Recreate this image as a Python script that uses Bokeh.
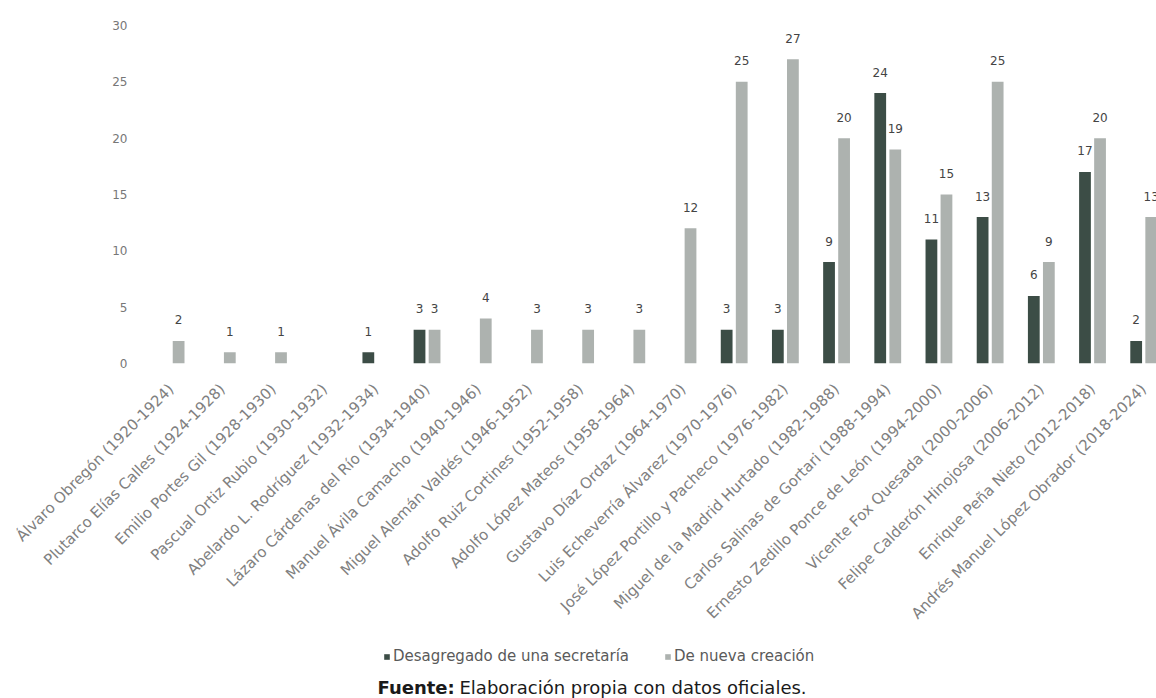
import numpy as np
from bokeh.plotting import figure
from bokeh.layouts import column
from bokeh.models import Range1d, FixedTicker, Legend, LegendItem, Label, ColumnDataSource
from bokeh.core.properties import value
from bokeh.embed import file_html
from bokeh.resources import INLINE

presidents = [
    "Álvaro Obregón (1920-1924)",
    "Plutarco Elías Calles (1924-1928)",
    "Emilio Portes Gil (1928-1930)",
    "Pascual Ortiz Rubio (1930-1932)",
    "Abelardo L. Rodríguez (1932-1934)",
    "Lázaro Cárdenas del Río (1934-1940)",
    "Manuel Ávila Camacho (1940-1946)",
    "Miguel Alemán Valdés (1946-1952)",
    "Adolfo Ruiz Cortines (1952-1958)",
    "Adolfo López Mateos (1958-1964)",
    "Gustavo Díaz Ordaz (1964-1970)",
    "Luis Echeverría Álvarez (1970-1976)",
    "José López Portillo y Pacheco (1976-1982)",
    "Miguel de la Madrid Hurtado (1982-1988)",
    "Carlos Salinas de Gortari (1988-1994)",
    "Ernesto Zedillo Ponce de León (1994-2000)",
    "Vicente Fox Quesada (2000-2006)",
    "Felipe Calderón Hinojosa (2006-2012)",
    "Enrique Peña Nieto (2012-2018)",
    "Andrés Manuel López Obrador (2018-2024)",
]
desagregado = [0, 0, 0, 0, 1, 3, 0, 0, 0, 0, 0, 3, 3, 9, 24, 11, 13, 6, 17, 2]
nueva = [2, 1, 1, 0, 0, 3, 4, 3, 3, 3, 12, 25, 27, 20, 19, 15, 25, 9, 20, 13]
y_ticks = [0, 5, 10, 15, 20, 25, 30]
series_names = ["Desagregado de una secretaría", "De nueva creación"]

DARK = "#3c4d46"
LIGHT = "#adb2af"
TXT = "#5a5a5a"

n = len(presidents)
centers = np.arange(n)
off = 0.147
bw = 0.23

p = figure(frame_width=1011, frame_height=338, output_backend="svg", toolbar_location=None,
           x_range=Range1d(-0.5, 19.25), y_range=Range1d(0, 30),
           min_border_left=145, min_border_right=0, min_border_top=25,
           min_border_bottom=282)
p.outline_line_color = None
p.grid.visible = False

src_d = ColumnDataSource(dict(x=centers - off, top=desagregado))
src_n = ColumnDataSource(dict(x=centers + off, top=nueva))
p.vbar(x="x", top="top", width=bw, source=src_d, fill_color=DARK, line_color=None)
p.vbar(x="x", top="top", width=bw, source=src_n, fill_color=LIGHT, line_color=None)

def labels(xs, vals):
    xs2 = [x for x, v in zip(xs, vals) if v > 0]
    vs = [v for v in vals if v > 0]
    p.text(x=xs2, y=vs, text=[str(v) for v in vs], text_align="center",
           text_baseline="middle", y_offset=-21, text_font_size="12px",
           text_color="#444444", text_font=value("DejaVu Sans"))

labels(list(centers - off), desagregado)
labels(list(centers + off), nueva)

# y axis
p.yaxis.ticker = FixedTicker(ticks=y_ticks)
p.yaxis.axis_line_color = None
p.yaxis.major_tick_line_color = None
p.yaxis.minor_tick_line_color = None
p.yaxis.major_label_standoff = 12
p.yaxis.major_label_text_font = "DejaVu Sans"
p.yaxis.major_label_text_font_size = "12px"
p.yaxis.major_label_text_color = "#777777"

# x axis
p.xaxis.ticker = FixedTicker(ticks=list(centers))
p.xaxis.major_label_overrides = {int(i): lab for i, lab in zip(centers, presidents)}
p.xaxis.major_label_orientation = np.pi / 4
p.xaxis.axis_line_color = None
p.xaxis.major_tick_line_color = None
p.xaxis.minor_tick_line_color = None
p.xaxis.major_label_standoff = 17
p.xaxis.major_label_text_font = "DejaVu Sans"
p.xaxis.major_label_text_font_size = "15px"
p.xaxis.major_label_text_color = "#808080"

# footer with legend and source note (its frame is aligned with the main frame)
f = figure(frame_width=1011, frame_height=53, output_backend="svg", toolbar_location=None,
           x_range=Range1d(145, 1156), y_range=Range1d(100, 153),
           min_border_left=145, min_border_right=0, min_border_top=0, min_border_bottom=0,
           x_axis_location=None, y_axis_location=None)
f.outline_line_color = None
f.grid.visible = False
# same series drawn outside the footer's visible range: only their legend swatches show
g1 = f.vbar(x="x", top="top", width=bw, source=src_d, fill_color=DARK, line_color=None)
g2 = f.vbar(x="x", top="top", width=bw, source=src_n, fill_color=LIGHT, line_color=None)

legend = Legend(items=[LegendItem(label=series_names[0], renderers=[g1]),
                       LegendItem(label=series_names[1], renderers=[g2])],
                orientation="horizontal", location=(383 - 145, 33),
                label_text_font="DejaVu Sans", label_text_font_size="15px",
                label_text_color=TXT, glyph_width=7, glyph_height=7, label_height=16,
                label_standoff=3, spacing=35, padding=0, margin=0,
                border_line_color=None, background_fill_alpha=0)
f.add_layout(legend, "center")

f.add_layout(Label(x=377, y=111, text="Fuente:", text_font="DejaVu Sans",
                   text_font_style="bold", text_font_size="18px", text_color="#1a1a1a",
                   text_baseline="middle"))
f.add_layout(Label(x=377 + 82, y=111, text="Elaboración propia con datos oficiales.",
                   text_font="DejaVu Sans", text_font_size="18px", text_color="#1a1a1a",
                   text_baseline="middle"))

layout = column(p, f, spacing=0)
open("out.html", "w").write(file_html(layout, INLINE))
